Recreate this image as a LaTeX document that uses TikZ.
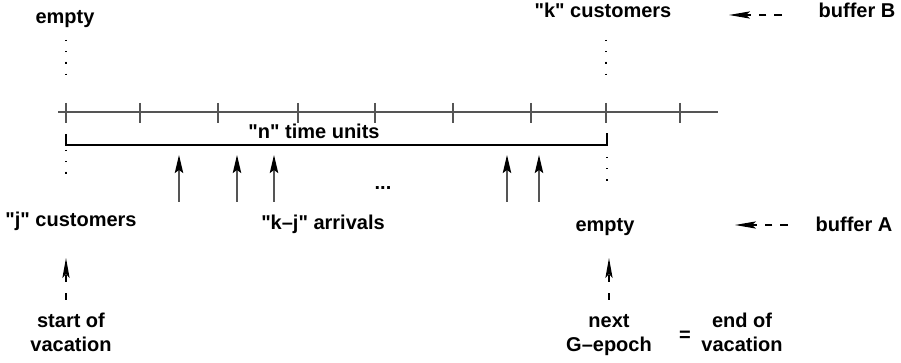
\documentclass[tikz,border=0pt]{standalone}
\usepackage{fontspec}
\setmainfont{Liberation Sans}[Ligatures=TeXOff]
\usetikzlibrary{arrows.meta}
\definecolor{axisgray}{RGB}{85,85,85}
\tikzset{
  lbl/.style={font=\fontsize{10}{12}\selectfont\bfseries, inner sep=0pt, anchor=base},
  lbl2/.style={font=\fontsize{10}{12}\selectfont\bfseries, inner sep=0pt, align=center, anchor=base},
  axis/.style={draw=axisgray, line width=1pt},
  tick/.style={draw=axisgray, line width=0.7pt},
  bracket/.style={draw=black, line width=0.9pt},
  dots/.style={draw=black, line width=0.7pt, dash pattern=on 0.6pt off 5pt},
  arrival/.style={draw=axisgray, line width=0.8pt, -{Stealth[length=9pt, width=4.2pt, inset=1.5pt, black]}},
  pointer/.style={draw=black, line width=0.6pt, dash pattern=on 3.5pt off 5.5pt,
    -{Stealth[length=10pt, width=3.6pt, inset=2pt]}},
  hpointer/.style={draw=black, line width=0.6pt, dash pattern=on 3.8pt off 4pt,
    -{Stealth[length=10.5pt, width=3.6pt, inset=2pt]}},
}
\begin{document}
\begin{tikzpicture}[x=0.5pt, y=-0.5pt]
\useasboundingbox (0,0) rectangle (901,363);

% buffer B state at the top
\node[lbl] (emptyB) at (65,24) {empty};
\node[lbl] (kcust) at (603,18) {"k" customers};
\node[lbl] (bufB) at (857,18) {buffer B};
\coordinate (bBfrom) at (782,15);
\coordinate (bBto) at (729,15);
\draw[hpointer] (bBfrom) -- (bBto);

% dotted markers above the time axis
\coordinate (dl1) at (66,40);  \coordinate (dl2) at (66,76);
\coordinate (dr1) at (606,40); \coordinate (dr2) at (606,76);
\draw[dots] (dl1) -- (dl2);
\draw[dots] (dr1) -- (dr2);

% time axis with unit ticks
\coordinate (axL) at (58,112);
\coordinate (axR) at (718,112);
\draw[axis] (axL) -- (axR);
\foreach \t in {66,140,218,298,375,453,531,606,680}
  \draw[tick] (\t,103) -- (\t,123);

% bracket spanning n time units
\coordinate (brL1) at (66,134); \coordinate (brL2) at (66,145);
\coordinate (brR1) at (607,133); \coordinate (brR2) at (607,145);
\draw[bracket] (brL1) -- (brL2) -- (brR2) -- (brR1);
\node[lbl] (ntime) at (314,139) {"n" time units};

% dotted markers below the bracket
\coordinate (el1) at (66,150);  \coordinate (el2) at (66,176);
\coordinate (er1) at (607,157); \coordinate (er2) at (607,182);
\draw[dots] (el1) -- (el2);
\draw[dots] (er1) -- (er2);

% arrivals
\foreach \a/\nm in {179/a1,237/a2,274/a3,507/a4,539/a5} {
  \coordinate (\nm s) at (\a,202);
  \coordinate (\nm t) at (\a,155);
  \draw[arrival] (\nm s) -- (\nm t);
}
\node[lbl] (dots) at (383,190) {...};

% buffer A state at the bottom
\node[lbl] (jcust) at (71,227) {"j" customers};
\node[lbl] (kjarr) at (323,230) {"k–j" arrivals};
\node[lbl] (emptyA) at (605,232) {empty};
\node[lbl] (bufA) at (854,232) {buffer A};
\coordinate (bAfrom) at (788,225);
\coordinate (bAto) at (735,225);
\draw[hpointer] (bAfrom) -- (bAto);

% epochs
\node[lbl2] (start) at (71,352) {start of\\vacation};
\node[lbl2] (next) at (609,352) {next\\G–epoch};
\node[lbl] (eq) at (685,342) {=};
\node[lbl2] (endv) at (742,352) {end of\\vacation};
\coordinate (sfrom) at (66,300); \coordinate (sto) at (66,258);
\coordinate (nfrom) at (609,300); \coordinate (nto) at (609,258);
\draw[pointer] (sfrom) -- (sto);
\draw[pointer] (nfrom) -- (nto);
\end{tikzpicture}
\end{document}
